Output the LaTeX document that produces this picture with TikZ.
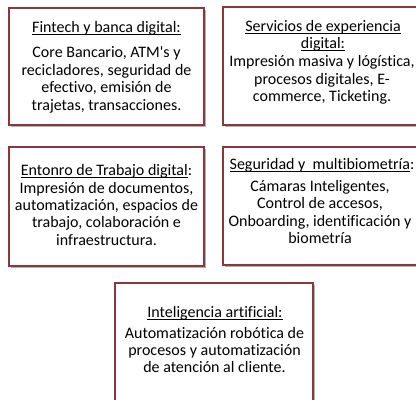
\documentclass[tikz,border=0pt]{standalone}
\usepackage{fontspec}
\setmainfont{Carlito}[Ligatures={NoCommon}]
\usetikzlibrary{shadows}
\definecolor{boxred}{RGB}{140,56,58}
\newsavebox\headBox
\newcommand\headLine[1]{\sbox\headBox{#1}\rlap{\rule[-1.7pt]{\wd\headBox}{0.55pt}}\usebox\headBox}

\begin{document}
\begin{tikzpicture}[x = 0.75pt, y = -0.75pt, font=\fontsize{12}{13.1}\selectfont]
	\tikzstyle{areaStyle}=[shape = rectangle, draw = boxred, line width = 1.5pt, fill = white, inner sep = 0pt, drop shadow = {shadow xshift = 1.5pt, shadow yshift = -1.5pt, fill = black, opacity = 0.3}]
	\tikzstyle{headStyle}=[align = center, inner sep = 0pt]
	\tikzstyle{bodyStyle}=[align = center, inner sep = 0pt]
	\path[use as bounding box, clip] (0,0) rectangle (416,399);
	\node[areaStyle, minimum width = 146.25pt, minimum height = 87.75pt] (fintech) at (106.5, 66.5) {};
	\node[areaStyle, minimum width = 150.75pt, minimum height = 88.5pt] (servicios) at (323.5, 66) {};
	\node[areaStyle, minimum width = 146.25pt, minimum height = 89.25pt] (entorno) at (106.5, 206.5) {};
	\node[areaStyle, minimum width = 149.25pt, minimum height = 88.5pt] (seguridad) at (322.5, 206) {};
	\node[areaStyle, minimum width = 148.5pt, minimum height = 95.25pt] (ia) at (214, 346.5) {};
	\node[headStyle] (fintechHead) at (106.5, 28) {\headLine{Fintech y banca digital:}};
	\node[bodyStyle] (fintechBody) at (106.5, 80) {Core Bancario, ATM\textquotesingle s y\\recicladores, seguridad de\\efectivo, emisión de\\trajetas, transacciones.};
	\node[headStyle] (serviciosHead) at (323, 36) {\headLine{Servicios de experiencia}\\\headLine{digital:}};
	\node[bodyStyle] (serviciosBody) at (322, 80) {Impresión masiva y lógística,\\procesos digitales, E-\\commerce, Ticketing.};
	\node[bodyStyle] (entornoBody) at (106.5, 205) {\headLine{Entonro de Trabajo digital}:\\Impresión de documentos,\\automatización, espacios de\\trabajo, colaboración e\\infraestructura.};
	\node[headStyle] (seguridadHead) at (322, 165.5) {\headLine{Seguridad y\ \ multibiometría}:};
	\node[bodyStyle] (seguridadBody) at (320, 212) {Cámaras Inteligentes,\\Control de accesos,\\Onboarding, identificación y\\biometría};
	\node[headStyle] (iaHead) at (215, 313) {\headLine{Inteligencia artificial:}};
	\node[bodyStyle] (iaBody) at (214.5, 350) {Automatización robótica de\\procesos y automatización\\de atención al cliente.};
\end{tikzpicture}
\end{document}
